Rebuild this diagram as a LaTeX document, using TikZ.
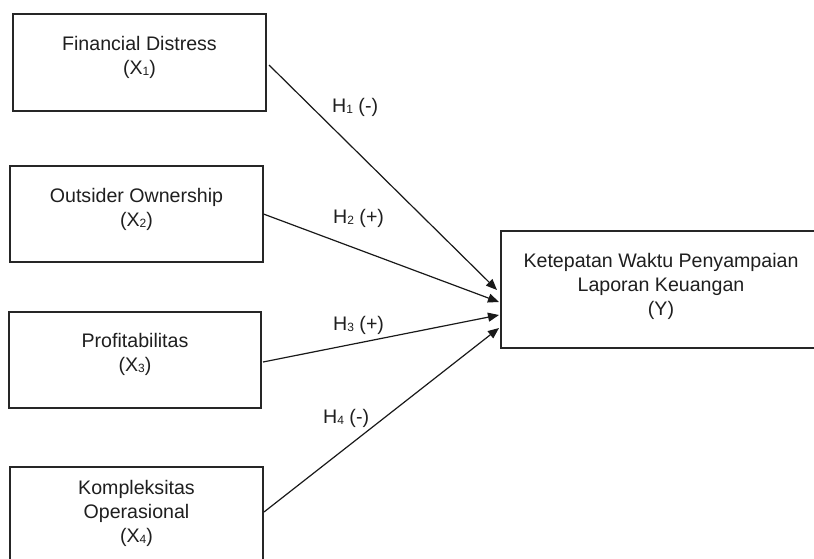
\documentclass[tikz,border=0pt]{standalone}
\usepackage{fontspec}
\setmainfont{Liberation Sans}
\usetikzlibrary{arrows.meta,calc}
\newcommand{\subd}[1]{{\fontsize{12}{12}\selectfont\raisebox{-1pt}{#1}}}
\begin{document}
\begin{tikzpicture}[x=1pt,y=-1pt,
  box/.style={draw=black!85,line width=1.2pt,inner sep=0pt,outer sep=0pt},
  txt/.style={text=black!88,font=\fontsize{19.6}{24.2}\selectfont,align=center,inner sep=0pt,anchor=north},
  lbl/.style={text=black!88,font=\fontsize{19.6}{24.2}\selectfont,inner sep=0pt,anchor=base west},
  arr/.style={draw=black!90,line width=1.2pt,-{Triangle[length=11pt,width=9pt]}}]
\clip (0,0) rectangle (814,558);
\fill[white] (0,0) rectangle (814,558);
% boxes
\node[box,minimum width=253pt,minimum height=97pt] (b1) at (139.5,62.5) {};
\node[box,minimum width=253pt,minimum height=96pt] (b2) at (136.5,214) {};
\node[box,minimum width=252pt,minimum height=96pt] (b3) at (135,360) {};
\node[box,minimum width=253pt,minimum height=94pt] (b4) at (136.5,514) {};
\node[box,minimum width=316pt,minimum height=117pt] (y) at (659,289.5) {};
% texts
\node[txt] (t1) at (139.5,36) {Financial Distress\\(X\subd{1})};
\node[txt] (t2) at (136.5,188) {Outsider Ownership\\(X\subd{2})};
\node[txt] (t3) at (135,333) {Profitabilitas\\(X\subd{3})};
\node[txt] (t4) at (136.5,480) {Kompleksitas\\Operasional\\(X\subd{4})};
\node[txt] (ty) at (661,253) {Ketepatan Waktu Penyampaian\\Laporan Keuangan\\(Y)};
% arrow ends
\coordinate (e1) at ($(y.west)+(-4,0.5)$);
\coordinate (e2) at ($(y.west)+(-2,12.5)$);
\coordinate (e3) at ($(y.west)+(-2,25.5)$);
\coordinate (e4) at ($(y.west)+(-2,38.5)$);
\coordinate (s1) at ($(b1.east)+(3,2.5)$);
\coordinate (s2) at ($(b2.east)+(0.5,0)$);
\coordinate (s3) at ($(b3.east)+(2,2)$);
\coordinate (s4) at ($(b4.east)+(1,-2)$);
\draw[arr] (s1) -- (e1);
\draw[arr] (s2) -- (e2);
\draw[arr] (s3) -- (e3);
\draw[arr] (s4) -- (e4);
% labels
\node[lbl] (h1) at (332,112) {H\subd{1} (-)};
\node[lbl] (h2) at (333,223) {H\subd{2} (+)};
\node[lbl] (h3) at (333,330) {H\subd{3} (+)};
\node[lbl] (h4) at (323,423) {H\subd{4} (-)};
\end{tikzpicture}
\end{document}
